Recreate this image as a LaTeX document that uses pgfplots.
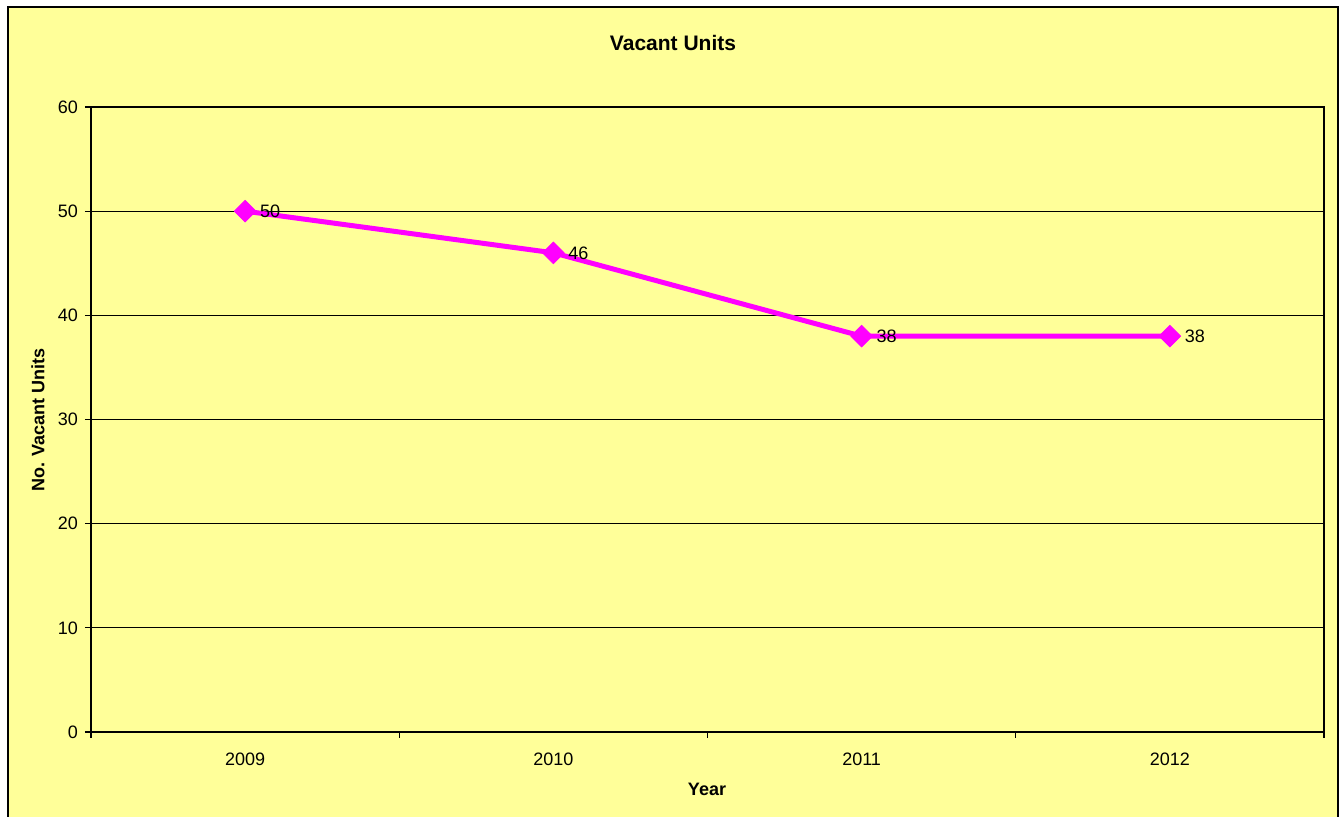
\documentclass[border=0pt]{standalone}
\usepackage{pgfplots}
\pgfplotsset{compat=1.18}
\usepackage{fontspec}
\setmainfont{Liberation Sans}
\definecolor{bgy}{HTML}{FFFF99}
\definecolor{mag}{HTML}{FF00FF}
\begin{document}
\begin{tikzpicture}
\useasboundingbox (0,0) rectangle (671pt,408.5pt);
\fill[white] (0,0) rectangle (671pt,408.5pt);
\filldraw[fill=bgy,draw=black,line width=0.8pt] (4pt,-3pt) rectangle (669pt,405pt);
\begin{axis}[
  at={(45.5pt,42.5pt)}, anchor=south west,
  scale only axis, width=616.5pt, height=312.5pt,
  xmin=-0.5, xmax=3.5, ymin=0, ymax=60,
  xtick={0,1,2,3}, xticklabels={2009,2010,2011,2012},
  minor xtick={-0.5,0.5,1.5,2.5,3.5},
  ytick={0,10,...,60},
  tick pos=left,
  major x tick style={draw=none},
  tick align=outside, major tick length=3pt, minor tick length=3pt,
  ymajorgrids, grid style={black, line width=0.4pt},
  axis line style={black, line width=0.8pt},
  tick style={black, line width=0.6pt},
  ticklabel style={font=\fontsize{9}{11}\selectfont},
  /pgf/number format/assume math mode=true,
  xticklabel style={yshift=-4pt},
  clip=false,
  axis background/.style={fill=bgy},
]
\addplot[mag, line width=2.5pt, mark=square*, mark size=3.8pt,
  mark options={rotate=45, line width=0.4pt},
  nodes near coords, every node near coord/.style={anchor=west, xshift=4pt, font=\fontsize{9}{11}\selectfont, black}]
  coordinates {(0,50) (1,46) (2,38) (3,38)};
\end{axis}
\node[font=\bfseries\fontsize{10.5}{12}\selectfont] at (336.5pt,387pt) {Vacant Units};
\node[font=\bfseries\fontsize{9}{11}\selectfont, rotate=90] at (19pt,198.5pt) {No. Vacant Units};
\node[font=\bfseries\fontsize{9}{11}\selectfont] at (353.5pt,14pt) {Year};
\end{tikzpicture}
\end{document}
